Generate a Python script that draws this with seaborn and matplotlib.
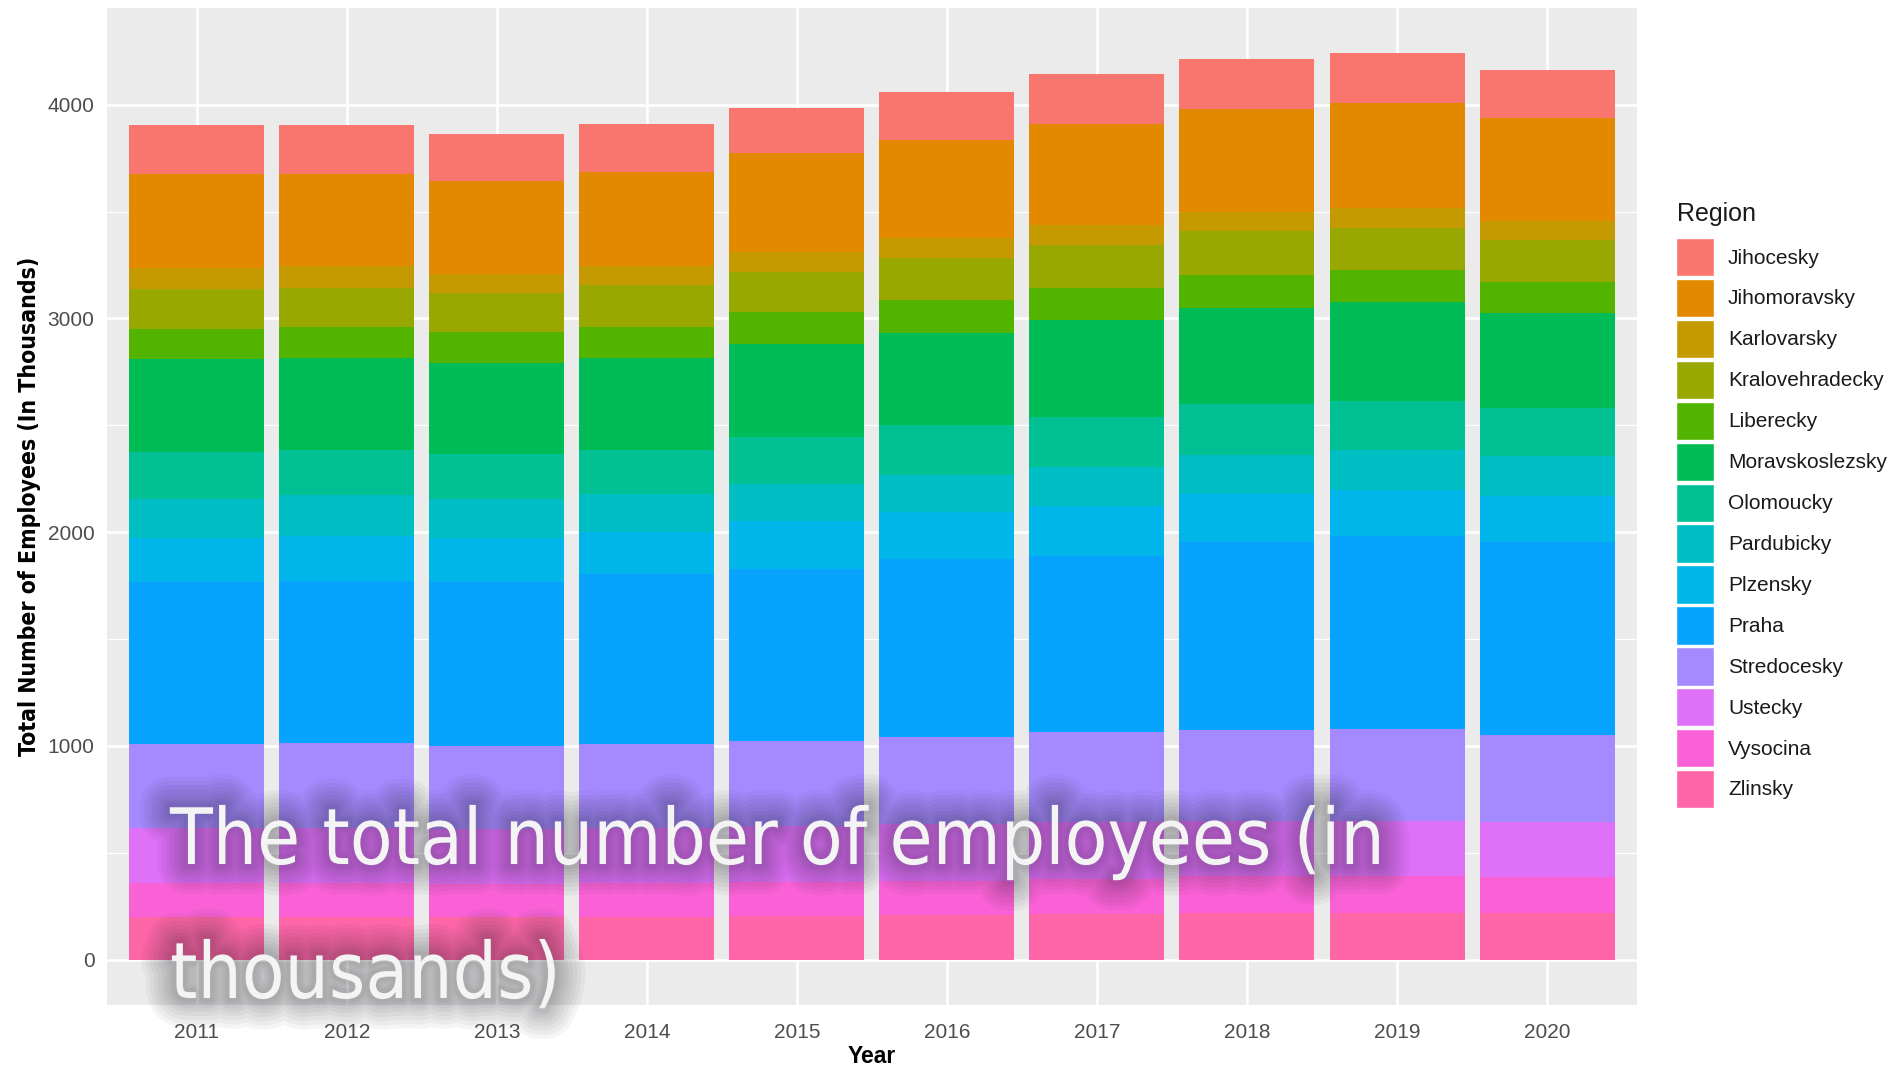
import numpy as np
import pandas as pd
import matplotlib
matplotlib.use('Agg')
import matplotlib.pyplot as plt
import matplotlib.patheffects as pe
from matplotlib import font_manager
from matplotlib.ticker import MultipleLocator
import seaborn as sns

# data (thousands of employees)
years = [2011, 2012, 2013, 2014, 2015, 2016, 2017, 2018, 2019, 2020]
regions = ['Jihocesky', 'Jihomoravsky', 'Karlovarsky', 'Kralovehradecky', 'Liberecky',
           'Moravskoslezsky', 'Olomoucky', 'Pardubicky', 'Plzensky', 'Praha',
           'Stredocesky', 'Ustecky', 'Vysocina', 'Zlinsky']

jihocesky = [226, 228, 218, 226, 212, 225, 234, 234, 234, 223]
jihomoravsky = [443, 434, 434, 441, 463, 460, 476, 483, 488, 484]
karlovarsky = [97, 101, 92, 89, 94, 92, 92, 89, 93, 90]
kralovehradecky = [187, 184, 183, 195, 187, 200, 201, 208, 199, 197]
liberecky = [139, 141, 143, 143, 148, 151, 150, 151, 151, 143]
moravskoslezsky = [438, 432, 426, 431, 434, 434, 451, 451, 463, 446]
olomoucky = [217, 212, 209, 206, 221, 231, 234, 237, 227, 222]
pardubicky = [184, 192, 184, 179, 172, 174, 184, 184, 187, 189]
plzensky = [203, 209, 207, 195, 226, 219, 233, 222, 217, 212]
praha = [758, 757, 765, 796, 803, 835, 826, 883, 903, 903]
stredocesky = [393, 397, 388, 394, 400, 405, 419, 423, 428, 411]
ustecky = [258, 258, 257, 255, 260, 265, 267, 260, 260, 256]
vysocina = [158, 158, 155, 160, 160, 162, 166, 172, 172, 168]
zlinsky = [202, 202, 200, 200, 205, 208, 212, 218, 218, 218]

series = [jihocesky, jihomoravsky, karlovarsky, kralovehradecky, liberecky,
          moravskoslezsky, olomoucky, pardubicky, plzensky, praha,
          stredocesky, ustecky, vysocina, zlinsky]

rows = []
for reg, vals in zip(regions, series):
    for yr, v in zip(years, vals):
        rows.append({'Year': yr, 'Region': reg, 'Employees': v})
df = pd.DataFrame(rows)


# ggplot default hue palette (hcl, c=100, l=65)
def hcl_hex(h, c=100.0, l=65.0):
    hr = np.deg2rad(h)
    u, v = c * np.cos(hr), c * np.sin(hr)
    Y = ((l + 16) / 116) ** 3
    un, vn = 0.1978398, 0.4683363
    up = u / (13 * l) + un
    vp = v / (13 * l) + vn
    X = Y * 9 * up / (4 * vp)
    Z = Y * (12 - 3 * up - 20 * vp) / (4 * vp)
    M = np.array([[3.2404542, -1.5371385, -0.4985314],
                  [-0.9692660, 1.8760108, 0.0415560],
                  [0.0556434, -0.2040259, 1.0572252]])
    rgb = M @ np.array([X, Y, Z])
    rgb = np.where(rgb <= 0.0031308, 12.92 * rgb, 1.055 * np.abs(rgb) ** (1 / 2.4) - 0.055)
    return matplotlib.colors.to_hex(np.clip(rgb, 0, 1))


hues = np.linspace(15, 375, len(regions) + 1)[:-1]
palette = dict(zip(regions, [hcl_hex(h) for h in hues]))

# use a condensed face for the caption / y title if one is there
condensed = any(f.name == 'DejaVu Sans' and 'condensed' in str(f.stretch)
                for f in font_manager.fontManager.ttflist)
if condensed:
    cond_font = dict(family=['DejaVu Sans'], fontstretch='condensed')
else:
    cond_font = dict(family=['Liberation Sans', 'DejaVu Sans'])

sns.set_style('white')
plt.rcParams['font.family'] = ['Liberation Sans', 'DejaVu Sans']

W, H = 1903, 1066
fig = plt.figure(figsize=(W / 100, H / 100), dpi=100)
ax = fig.add_axes([107 / W, 1 - 1005 / H, (1637 - 107) / W, (1005 - 8) / H])
ax.set_facecolor('#EBEBEB')

sns.histplot(data=df, x='Year', weights='Employees', hue='Region', hue_order=regions,
             multiple='stack', discrete=True, shrink=0.9, palette=palette,
             alpha=1, linewidth=0, ax=ax)

ax.set_xlim(2010.4, 2020.6)
ax.set_ylim(-212, 4452)
ax.set_xticks(years)
ax.set_xticklabels([str(y) for y in years])
ax.set_yticks([0, 1000, 2000, 3000, 4000])
ax.yaxis.set_minor_locator(MultipleLocator(500))
ax.set_axisbelow(True)
ax.grid(which='major', color='white', linewidth=1.8)
ax.grid(which='minor', axis='y', color='white', linewidth=0.9)
for s in ax.spines.values():
    s.set_visible(False)
ax.tick_params(which='major', length=5, width=1.2, color='#333333',
               labelsize=15, labelcolor='#4D4D4D', pad=4)
ax.tick_params(which='minor', length=0)
ax.tick_params(axis='x', pad=8)

ax.set_xlabel('Year', fontsize=16.5, fontweight='bold', color='black', labelpad=2)
ax.set_ylabel('Total Number of Employees (In Thousands)', fontsize=16.5,
              fontweight='bold', color='black', labelpad=5, **cond_font)

# legend on the right, like ggplot
sns.move_legend(ax, loc='upper left', bbox_to_anchor=(1676 / W, 1 - 238 / H),
                bbox_transform=fig.transFigure, frameon=False, title=None,
                fontsize=15, handlelength=1.8, handleheight=2.46,
                labelspacing=0.12, handletextpad=0.7, borderaxespad=0, borderpad=0)
leg = ax.get_legend()
for t in leg.get_texts():
    t.set_color('#1A1A1A')
for p in leg.get_patches():
    p.set_edgecolor('white')
    p.set_linewidth(1.0)
fig.text(1677 / W, 1 - 214 / H, 'Region', fontsize=18, color='#1A1A1A',
         va='center', ha='left')

# big overlay caption with soft dark glow
glow = [pe.Stroke(linewidth=lw, foreground='#1E1E28', alpha=0.045)
        for lw in (44, 38, 32, 26, 20, 15, 10, 6)] + [pe.Normal()]
cap_size = 56
fig.text(170 / W, 1 - 864 / H, 'The total number of employees (in', fontsize=cap_size,
         color='#F4F4F4', va='baseline', ha='left', path_effects=glow, **cond_font)
fig.text(170 / W, 1 - 998 / H, 'thousands)', fontsize=cap_size,
         color='#F4F4F4', va='baseline', ha='left', path_effects=glow, **cond_font)

fig.savefig('out.png', dpi=100)
